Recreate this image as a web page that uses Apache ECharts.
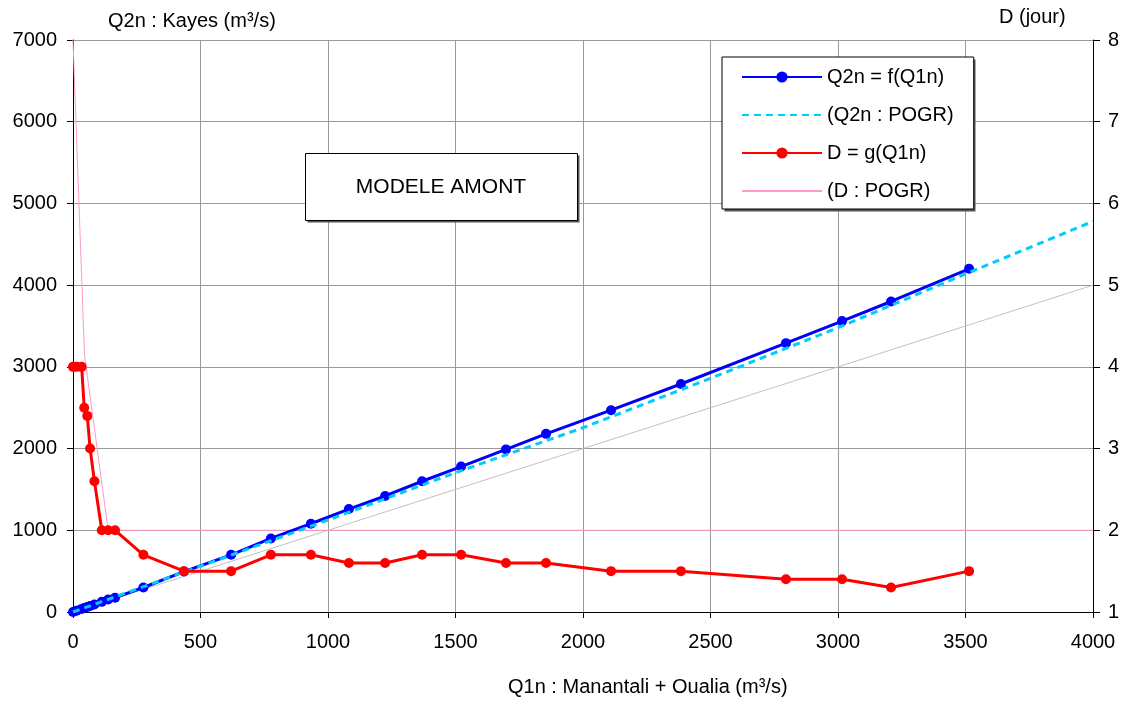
<!DOCTYPE html>
<html>
<head>
<meta charset="utf-8">
<script src="https://cdn.jsdelivr.net/npm/echarts@6/dist/echarts.min.js"></script>
<style>
html,body{margin:0;padding:0;background:#fff;}
#chart{width:1128px;height:701px;}
</style>
</head>
<body>
<div id="chart"></div>
<script>
// ---- data ----
const q1n = [0, 14, 34, 44, 56, 67, 84, 113, 138, 165, 276, 435, 620, 776, 933, 1082, 1224, 1369, 1522, 1698, 1855, 2110, 2384, 2796, 3016, 3208, 3514];
const q2n = [0, 15, 38, 48, 62, 74, 92, 124, 152, 175, 300, 495, 700, 900, 1080, 1260, 1420, 1600, 1780, 1990, 2180, 2470, 2790, 3290, 3560, 3800, 4200];
const dDays = [4, 4, 4, 3.5, 3.4, 3.0, 2.6, 2.0, 2.0, 2.0, 1.7, 1.5, 1.5, 1.7, 1.7, 1.6, 1.6, 1.7, 1.7, 1.6, 1.6, 1.5, 1.5, 1.4, 1.4, 1.3, 1.5];
const pogrQ1 = [0, 500, 1000, 1500, 2000, 2500, 3000, 3500, 4000];
const pogrQ2 = [0, 560, 1126, 1705, 2255, 2860, 3479, 4137, 4780];
const pogrDQ1 = [0, 45, 138, 4000];
const pogrD = [8, 4.15, 2, 2];
const refQ1 = [0, 4000];
const refQ2 = [0, 4000];
const leftTicks = [0, 7000, 1000];
const rightTicks = [1, 8, 1];
const xTicks = [0, 4000, 500];
const names = ['Q2n = f(Q1n)', '(Q2n : POGR)', 'D = g(Q1n)', '(D : POGR)'];

const zip = (a, b) => a.map((v, i) => [v, b[i]]);
const FONT = 'Liberation Sans, Arial, sans-serif';
const chart = echarts.init(document.getElementById('chart'), null, {renderer: 'canvas'});
const plain = v => String(v);
const axisLbl = {color: '#000', fontSize: 20, fontFamily: FONT, formatter: plain};

chart.setOption({
  animation: false,
  backgroundColor: '#fff',
  grid: {left: 73, right: 35, top: 40, bottom: 89, containLabel: false},
  xAxis: {
    type: 'value', min: xTicks[0], max: xTicks[1], interval: xTicks[2],
    axisLine: {show: true, lineStyle: {color: '#000', width: 1}},
    axisTick: {show: true, length: 6, lineStyle: {color: '#000'}},
    axisLabel: Object.assign({margin: 20}, axisLbl),
    splitLine: {show: true, lineStyle: {color: '#999', width: 1}}
  },
  yAxis: [{
    type: 'value', position: 'left', min: leftTicks[0], max: leftTicks[1], interval: leftTicks[2],
    axisLine: {show: true, lineStyle: {color: '#000', width: 1}},
    axisTick: {show: true, length: 6, lineStyle: {color: '#000'}},
    axisLabel: Object.assign({margin: 16}, axisLbl),
    splitLine: {show: true, lineStyle: {color: '#999', width: 1}}
  }, {
    type: 'value', position: 'right', min: rightTicks[0], max: rightTicks[1], interval: rightTicks[2],
    axisLine: {show: true, onZero: false, lineStyle: {color: '#000', width: 1}},
    axisTick: {show: true, length: 7, lineStyle: {color: '#000'}},
    axisLabel: Object.assign({margin: 15}, axisLbl),
    splitLine: {show: false}
  }],
  legend: {
    data: [
      {name: names[0]},
      {name: names[1], itemStyle: {opacity: 0}},
      {name: names[2]},
      {name: names[3], itemStyle: {opacity: 0}}
    ],
    orient: 'vertical',
    left: 722, top: 57,
    padding: [10, 20, 8, 19],
    itemWidth: 80, itemHeight: 14, itemGap: 18,
    backgroundColor: '#fff',
    borderColor: '#000', borderWidth: 1,
    textStyle: {color: '#000', fontSize: 20, fontFamily: FONT},
    selectedMode: false,
    z: 10
  },
  graphic: [
    {type: 'text', left: 108, top: 11, style: {text: 'Q2n : Kayes (m³/s)', fill: '#000', font: '20px ' + FONT}},
    {type: 'text', left: 999, top: 7, style: {text: 'D (jour)', fill: '#000', font: '20px ' + FONT}},
    {type: 'text', left: 508, top: 677, style: {text: 'Q1n : Manantali + Oualia (m³/s)', fill: '#000', font: '20px ' + FONT}},
    // legend drop shadow
    {type: 'rect', z: 9, shape: {x: 724.5, y: 59.5, width: 251, height: 152}, style: {fill: '#555'}},
    // text box with drop shadow
    {type: 'rect', z: 99, shape: {x: 307.5, y: 155.5, width: 272, height: 67}, style: {fill: '#555'}},
    {type: 'rect', z: 100, shape: {x: 305.5, y: 153.5, width: 272, height: 67},
     style: {fill: '#fff', stroke: '#000', lineWidth: 1}},
    {type: 'text', z: 101, x: 441, y: 187, style: {text: 'MODELE AMONT', fill: '#000', font: '21px ' + FONT, align: 'center', verticalAlign: 'middle'}}
  ],
  series: [
    {name: '1:1', type: 'line', data: zip(refQ1, refQ2), xAxisIndex: 0, yAxisIndex: 0,
     showSymbol: false, symbol: 'none', lineStyle: {color: '#c0c0c0', width: 1}, z: 1, silent: true},
    {name: names[3], type: 'line', data: zip(pogrDQ1, pogrD), yAxisIndex: 1,
     symbol: 'none', color: '#ff99cc', lineStyle: {color: '#ff99cc', width: 1}, z: 2},
    {name: names[0], type: 'line', data: zip(q1n, q2n), yAxisIndex: 0,
     symbol: 'circle', symbolSize: 10, color: '#0000ff',
     itemStyle: {color: '#0000ff'}, lineStyle: {color: '#0000ff', width: 3}, z: 3},
    {name: names[1], type: 'line', data: zip(pogrQ1, pogrQ2), yAxisIndex: 0,
     symbol: 'none', color: '#00ccff', lineStyle: {color: '#00ccff', width: 3, type: [7, 5]}, z: 4},
    {name: names[2], type: 'line', data: zip(q1n, dDays), yAxisIndex: 1,
     symbol: 'circle', symbolSize: 10, color: '#ff0000',
     itemStyle: {color: '#ff0000'}, lineStyle: {color: '#ff0000', width: 3}, z: 5}
  ]
});
</script>
</body>
</html>
